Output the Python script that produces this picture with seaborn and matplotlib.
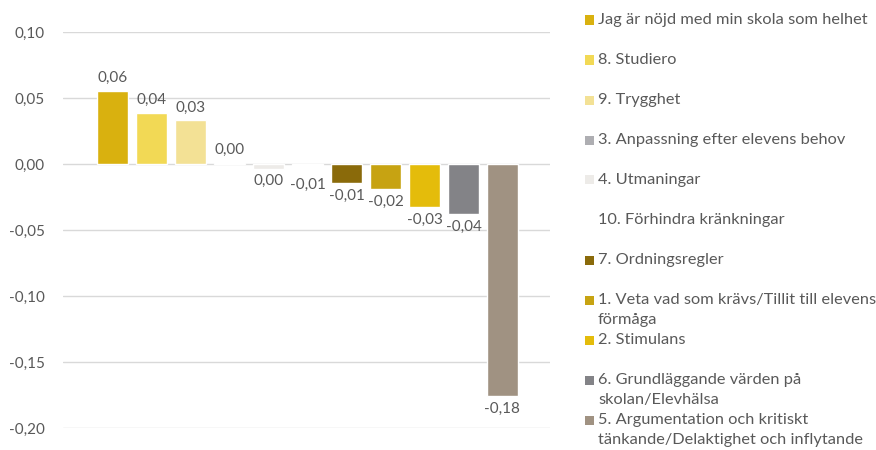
import matplotlib
matplotlib.use("Agg")
import matplotlib.pyplot as plt
import seaborn as sns
from matplotlib.patches import Rectangle

# Data
categories = [
    "Jag är nöjd med min skola som helhet",
    "8. Studiero",
    "9. Trygghet",
    "3. Anpassning efter elevens behov",
    "4. Utmaningar",
    "10. Förhindra kränkningar",
    "7. Ordningsregler",
    "1. Veta vad som krävs/Tillit till elevens förmåga",
    "2. Stimulans",
    "6. Grundläggande värden på skolan/Elevhälsa",
    "5. Argumentation och kritiskt tänkande/Delaktighet och inflytande",
]
values = [0.0555, 0.039, 0.033, 0.001, -0.0035, -0.006,
          -0.0145, -0.019, -0.0325, -0.038, -0.176]
colors = ["#D9B10F", "#F2D955", "#F3E195", "#AEAEB2", "#EDEBE8", "#FFFFFF",
          "#8A6A0A", "#C7A312", "#E4BC0B", "#838387", "#A09282"]
legend_labels = [
    "Jag är nöjd med min skola som helhet",
    "8. Studiero",
    "9. Trygghet",
    "3. Anpassning efter elevens behov",
    "4. Utmaningar",
    "10. Förhindra kränkningar",
    "7. Ordningsregler",
    "1. Veta vad som krävs/Tillit till elevens\nförmåga",
    "2. Stimulans",
    "6. Grundläggande värden på\nskolan/Elevhälsa",
    "5. Argumentation och kritiskt\ntänkande/Delaktighet och inflytande",
]
yticks = [-0.20, -0.15, -0.10, -0.05, 0.00, 0.05, 0.10]

sns.set_style("white")
plt.rcParams['font.family'] = ['Lato', 'DejaVu Sans']
TEXT = "#595959"
FS = 11
FS_LEG = 11.8

W, H = 876, 450
fig = plt.figure(figsize=(W / 100, H / 100), dpi=100)
ax = fig.add_axes([63 / W, 1 - 428 / H, (550 - 63) / W, (428 - 32) / H])

sns.barplot(x=categories, y=values, hue=categories, palette=dict(zip(categories, colors)),
            order=categories, hue_order=categories, width=0.8, legend=False, ax=ax,
            saturation=1)

ax.set_ylim(-0.2, 0.1)
ax.set_xlim(-1.27, 11.22)
ax.set_yticks(yticks)
ax.set_yticklabels([f"{t:.2f}".replace(".", ",") for t in yticks], color=TEXT, fontsize=FS)
ax.set_xticks([])
ax.tick_params(axis="y", length=0, pad=13)
ax.grid(axis="y", color="#D9D9D9", linewidth=1)
ax.set_axisbelow(True)
for s in ax.spines.values():
    s.set_visible(False)

# value labels
for i, v in enumerate(values):
    r = round(v, 2)
    txt = f"{abs(r):.2f}".replace(".", ",")
    if r < 0:
        txt = "-" + txt
    if v >= 0:
        ax.annotate(txt, (i, v), xytext=(0, 4), textcoords="offset points",
                    ha="center", va="bottom", color=TEXT, fontsize=FS)
    else:
        ax.annotate(txt, (i, v), xytext=(0, -4), textcoords="offset points",
                    ha="center", va="top", color=TEXT, fontsize=FS)

# legend drawn Excel-style on the right
for i, (lab, c) in enumerate(zip(legend_labels, colors)):
    yc = 20 + 40 * i
    fig.patches.append(Rectangle((585 / W, 1 - (yc + 4.5) / H), 9 / W, 9 / H,
                                 transform=fig.transFigure, facecolor=c,
                                 edgecolor="none"))
    for j, line in enumerate(lab.split("\n")):
        fig.text(598 / W, 1 - (yc + 20 * j) / H, line, ha="left", va="center",
                 color=TEXT, fontsize=FS_LEG)

fig.savefig("out.png", dpi=100)
